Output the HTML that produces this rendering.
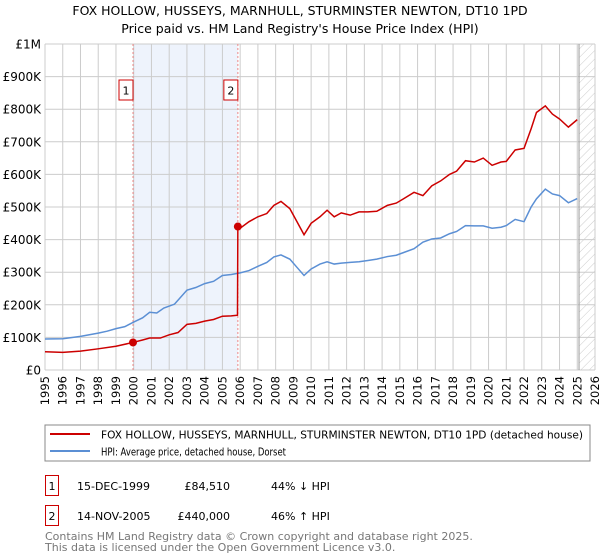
<!DOCTYPE html>
<html><head><meta charset="utf-8"><style>
body{margin:0;background:#fff;}
svg{display:block;font-family:"DejaVu Sans","Liberation Sans",sans-serif;}
</style></head><body>
<svg id="chart" width="600" height="560" viewBox="0 0 600 560">
<defs><pattern id="hatch" width="6" height="6" patternUnits="userSpaceOnUse" patternTransform="rotate(45)"><line x1="0" y1="0" x2="0" y2="6" stroke="#ccc" stroke-width="1"/></pattern></defs>
<text x="300" y="15" text-anchor="middle" font-size="12.5" fill="#000">FOX HOLLOW, HUSSEYS, MARNHULL, STURMINSTER NEWTON, DT10 1PD</text>
<text x="300" y="33" text-anchor="middle" font-size="12.5" fill="#000">Price paid vs. HM Land Registry's House Price Index (HPI)</text>
<g id="grid"></g>
<g id="marks"></g>
<g id="axes"></g>
<rect x="45" y="425" width="545" height="36" fill="#fff" stroke="#888"/>
<line x1="50" y1="434" x2="90" y2="434" stroke="#cc0000" stroke-width="2"/>
<text x="101" y="438.5" font-size="11" textLength="482" lengthAdjust="spacingAndGlyphs">FOX HOLLOW, HUSSEYS, MARNHULL, STURMINSTER NEWTON, DT10 1PD (detached house)</text>
<line x1="50" y1="451" x2="90" y2="451" stroke="#5b8fd4" stroke-width="2"/>
<text x="101" y="455.5" font-size="11" textLength="185" lengthAdjust="spacingAndGlyphs">HPI: Average price, detached house, Dorset</text>
<g>
<rect x="45.5" y="475.5" width="13" height="20" fill="#fff" stroke="#cc0000"/>
<text x="52" y="490" text-anchor="middle" font-size="11">1</text>
<text x="77" y="490" font-size="11">15-DEC-1999</text>
<text x="230" y="490" text-anchor="end" font-size="11">£84,510</text>
<text x="271" y="490" font-size="11">44% ↓ HPI</text></g>
<g>
<rect x="45.5" y="505.5" width="13" height="20" fill="#fff" stroke="#cc0000"/>
<text x="52" y="520" text-anchor="middle" font-size="11">2</text>
<text x="77" y="520" font-size="11">14-NOV-2005</text>
<text x="230" y="520" text-anchor="end" font-size="11">£440,000</text>
<text x="271" y="520" font-size="11">46% ↑ HPI</text></g>
<text x="45" y="540" font-size="11" fill="#777">Contains HM Land Registry data © Crown copyright and database right 2025.</text>
<text x="45" y="551" font-size="11" fill="#777">This data is licensed under the Open Government Licence v3.0.</text>
</svg>
<script>
const yearTicks=[1995,1996,1997,1998,1999,2000,2001,2002,2003,2004,2005,2006,2007,2008,2009,2010,2011,2012,2013,2014,2015,2016,2017,2018,2019,2020,2021,2022,2023,2024,2025,2026];
const priceTicks=[0,100000,200000,300000,400000,500000,600000,700000,800000,900000,1000000];
const priceTickLabels=["£0","£100K","£200K","£300K","£400K","£500K","£600K","£700K","£800K","£900K","£1M"];
const hpiDates=[1995,1996,1997,1998,1998.5,1999,1999.5,2000,2000.5,2000.9,2001.3,2001.7,2002.3,2003,2003.5,2004,2004.5,2005,2005.5,2006,2006.5,2007,2007.5,2007.9,2008.3,2008.8,2009.2,2009.6,2010,2010.5,2010.9,2011.3,2011.7,2012.2,2012.7,2013.2,2013.7,2014.3,2014.8,2015.2,2015.8,2016.3,2016.8,2017.3,2017.8,2018.2,2018.7,2019.2,2019.7,2020.2,2020.7,2021,2021.5,2022,2022.4,2022.7,2023.2,2023.6,2024,2024.5,2025];
const hpiValues=[95000,96000,103000,113000,119000,127000,133000,147000,160000,177000,175000,190000,202000,245000,253000,265000,272000,290000,293000,298000,305000,318000,330000,347000,353000,340000,315000,290000,310000,325000,332000,325000,328000,330000,332000,336000,340000,348000,352000,360000,372000,392000,402000,405000,418000,425000,443000,442000,442000,435000,438000,443000,462000,455000,500000,525000,555000,540000,535000,513000,526000];
const propDates=[1995,1996,1997,1998,1999,1999.96,2000.5,2000.9,2001.5,2002,2002.5,2003,2003.5,2004,2004.5,2005,2005.5,2005.85,2005.87,2006,2006.5,2007,2007.5,2007.9,2008.3,2008.8,2009.2,2009.6,2010,2010.5,2010.9,2011.3,2011.7,2012.2,2012.7,2013.2,2013.7,2014.3,2014.8,2015.2,2015.8,2016.3,2016.8,2017.3,2017.8,2018.2,2018.7,2019.2,2019.7,2020.2,2020.7,2021,2021.5,2022,2022.4,2022.7,2023.2,2023.6,2024,2024.5,2025];
const propValues=[56000,54000,58000,65000,73000,84510,92000,98000,98000,108000,115000,140000,143000,150000,155000,165000,166000,168000,440000,435000,455000,470000,480000,505000,517000,495000,455000,415000,450000,470000,490000,470000,482000,475000,485000,485000,487000,505000,512000,525000,545000,535000,565000,580000,600000,610000,642000,638000,650000,628000,638000,640000,675000,680000,740000,790000,810000,785000,770000,745000,768000];
const saleDates=[1999.96,2005.87];
const saleValues=[84510,440000];
const saleLabels=["1","2"];
const X0=45,X1=595,Y0=370,Y1=44;
const xs=t=>X0+(t-1995)/(2026-1995)*(X1-X0);
const ys=v=>Y0-v/1000000*(Y0-Y1);
const NS="http://www.w3.org/2000/svg";
function mk(tag,attrs,parent){const e=document.createElementNS(NS,tag);for(const k in attrs)e.setAttribute(k,attrs[k]);parent.appendChild(e);return e;}
const grid=document.getElementById('grid'),marks=document.getElementById('marks'),axes=document.getElementById('axes');
const sh=mk('rect',{x:xs(saleDates[0]),y:Y1,width:xs(saleDates[1])-xs(saleDates[0]),height:Y0-Y1,fill:'#eef3fc'},grid);


const ht=mk('rect',{x:xs(2025.1),y:Y1,width:X1-xs(2025.1),height:Y0-Y1,fill:'url(#hatch)'},grid);


yearTicks.forEach(t=>{const l=mk('line',{x1:xs(t),x2:xs(t),y1:Y1,y2:Y0,stroke:'#ccc'},grid);


const tx=mk('text',{x:0,y:0,'font-size':11.5,'text-anchor':'end',transform:`translate(${xs(t)+4},${Y0+6}) rotate(-90)`},axes);
tx.textContent=t;

});
priceTicks.forEach((v,i)=>{const l=mk('line',{x1:X0,x2:X1,y1:ys(v),y2:ys(v),stroke:'#ccc'},grid);


const tx=mk('text',{x:X0-4,y:ys(v)+4.5,'font-size':12,'text-anchor':'end'},axes);
tx.textContent=priceTickLabels[i];

});
const ed=mk('line',{x1:xs(2025.1),x2:xs(2025.1),y1:Y1,y2:Y0,stroke:'#999'},grid);


saleDates.forEach((d,i)=>{const l=mk('line',{x1:xs(d),x2:xs(d),y1:Y1,y2:Y0,stroke:'#e88','stroke-dasharray':'2,2'},marks);


const r=mk('rect',{x:xs(d)-14,y:80,width:14,height:20,fill:'#fff',stroke:'#cc0000'},marks);


const tx=mk('text',{x:xs(d)-7,y:94.5,'font-size':11,'text-anchor':'middle'},marks);
tx.textContent=saleLabels[i];

});
const hp=mk('polyline',{points:hpiDates.map((d,i)=>xs(d)+','+ys(hpiValues[i])).join(' '),fill:'none',stroke:'#5b8fd4','stroke-width':1.5},marks);


const pp=mk('polyline',{points:propDates.map((d,i)=>xs(d)+','+ys(propValues[i])).join(' '),fill:'none',stroke:'#cc0000','stroke-width':1.5},marks);


saleDates.forEach((d,i)=>{const c=mk('circle',{cx:xs(d),cy:ys(saleValues[i]),r:4,fill:'#cc0000'},marks);

});
</script>
</body></html>
